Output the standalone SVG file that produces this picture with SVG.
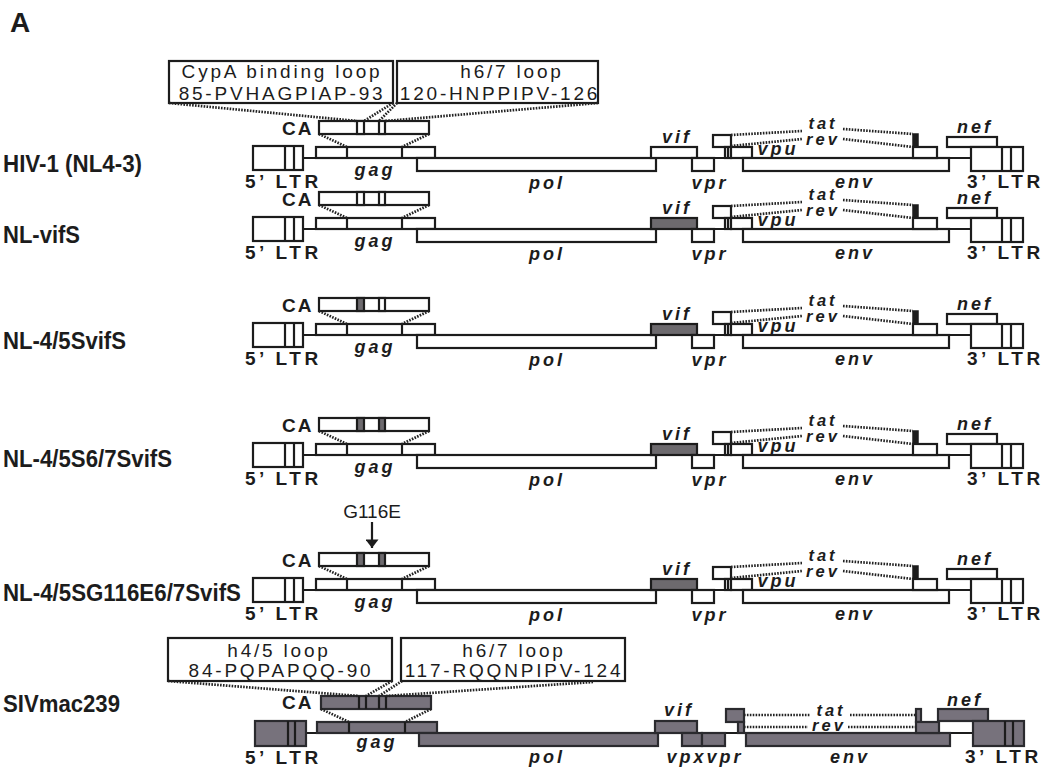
<svg xmlns="http://www.w3.org/2000/svg" width="1046" height="770" viewBox="0 0 1046 770">
<style>
.bx{fill:#fff;stroke:#1c1c1c;stroke-width:2.2}
.gr{fill:#6d6a6e;stroke:#1c1c1c;stroke-width:2.2}
.sv{fill:#77727c;stroke:#2a2a2e;stroke-width:2.2}
.dk{fill:#1c1c1c;stroke:#1c1c1c;stroke-width:1.5}
.ln{stroke:#1c1c1c;stroke-width:2.2;fill:none}
.dt{stroke:#222;stroke-width:2.7;stroke-dasharray:1.6 1.3;fill:none}
.gene{font-family:"Liberation Sans",Arial,sans-serif;font-weight:bold;font-style:italic;font-size:18px;letter-spacing:3px;text-anchor:middle;fill:#1c1c1c}
.tr{font-size:16.5px}
.ltr{font-family:"Liberation Sans",Arial,sans-serif;font-weight:bold;font-size:19px;letter-spacing:3.5px;fill:#1c1c1c}
.ca{font-family:"Liberation Sans",Arial,sans-serif;font-weight:bold;font-size:19px;letter-spacing:2px;fill:#1c1c1c}
.lbl{font-family:"Liberation Sans",Arial,sans-serif;font-weight:bold;font-size:24px;fill:#1c1c1c}
.bt{font-family:"Liberation Sans",Arial,sans-serif;font-size:19px;letter-spacing:2.8px;text-anchor:middle;fill:#1c1c1c}
.ann{font-family:"Liberation Sans",Arial,sans-serif;font-size:19px;text-anchor:middle;fill:#1c1c1c}
</style>
<defs>
<marker id="ah" markerWidth="20" markerHeight="13" refX="13" refY="10" orient="auto" markerUnits="userSpaceOnUse" viewBox="0 0 13 20">
<path d="M0,0 L13,10 L0,20 Z" fill="#1c1c1c"/>
</marker>
</defs>
<rect width="1046" height="770" fill="#fff"/>
<text x="10" y="32" style="font-family:'Liberation Sans',Arial,sans-serif;font-weight:bold;font-size:28px;fill:#1c1c1c">A</text>

<g id="labels">
<text class="lbl" x="3" y="172" textLength="139" lengthAdjust="spacingAndGlyphs">HIV-1 (NL4-3)</text>
<text class="lbl" x="3" y="243" textLength="77" lengthAdjust="spacingAndGlyphs">NL-vifS</text>
<text class="lbl" x="3" y="349" textLength="123" lengthAdjust="spacingAndGlyphs">NL-4/5SvifS</text>
<text class="lbl" x="3" y="467" textLength="169" lengthAdjust="spacingAndGlyphs">NL-4/5S6/7SvifS</text>
<text class="lbl" x="3" y="601" textLength="238" lengthAdjust="spacingAndGlyphs">NL-4/5SG116E6/7SvifS</text>
<text class="lbl" x="3" y="712" textLength="117" lengthAdjust="spacingAndGlyphs">SIVmac239</text>
</g>

<g id="loop-cypa">
<rect class="bx" x="169" y="61" width="224" height="42"/>
<text class="bt" x="282" y="78">CypA binding loop</text>
<text class="bt" x="282" y="100">85-PVHAGPIAP-93</text>
</g>
<g id="loop-h67-hiv">
<rect class="bx" x="397" y="61" width="201" height="42"/>
<text class="bt" x="512" y="78">h6/7 loop</text>
<text class="bt" x="500" y="100">120-HNPPIPV-126</text>
</g>

<g id="row-hiv1">
<line class="ln" x1="303" y1="158" x2="971" y2="158"/>
<rect class="bx" x="253" y="146" width="50" height="24"/><line class="ln" x1="285" y1="146" x2="285" y2="170"/><line class="ln" x1="294" y1="146" x2="294" y2="170"/>
<rect class="bx" x="316" y="147" width="119" height="11"/><line class="ln" x1="347" y1="147" x2="347" y2="158"/><line class="ln" x1="402" y1="147" x2="402" y2="158"/>
<rect class="bx" x="417" y="158" width="239" height="13"/>
<rect class="bx" x="651" y="147" width="46" height="11"/>
<rect class="bx" x="692" y="158" width="22" height="13"/>
<rect class="bx" x="713" y="135" width="18" height="12"/>
<rect class="bx" x="725" y="147" width="6" height="11"/><line class="ln" x1="728" y1="147" x2="728" y2="158"/>
<rect class="bx" x="731" y="147" width="21" height="11"/>
<rect class="bx" x="743" y="158" width="206" height="13"/>
<rect class="dk" x="913" y="134" width="5" height="13"/>
<rect class="bx" x="913" y="147" width="24" height="11"/>
<rect class="bx" x="947" y="137" width="50" height="10"/>
<rect class="bx" x="971" y="147" width="52" height="24"/><line class="ln" x1="1002" y1="147" x2="1002" y2="171"/><line class="ln" x1="1011" y1="147" x2="1011" y2="171"/>
<rect class="bx" x="319" y="121" width="110" height="13"/><rect class="bx" x="357" y="121" width="7" height="13"/><rect class="bx" x="379" y="121" width="6" height="13"/>
<text class="ca" x="282" y="135">CA</text>
<text class="ltr" x="245" y="188">5’ LTR</text>
<text class="ltr" x="967" y="188">3’ LTR</text>
<text class="gene" x="375" y="176">gag</text>
<text class="gene" x="547" y="189">pol</text>
<text class="gene" x="677" y="143">vif</text>
<text class="gene" x="710" y="189">vpr</text>
<text class="gene" x="778" y="155">vpu</text>
<text class="gene tr" x="823" y="129">tat</text>
<text class="gene tr" x="823" y="145">rev</text>
<text class="gene" x="855" y="188">env</text>
<text class="gene" x="975" y="133">nef</text>
</g>

<g id="row-nlvifs" transform="translate(0,71)">
<line class="ln" x1="303" y1="158" x2="971" y2="158"/>
<rect class="bx" x="253" y="146" width="50" height="24"/><line class="ln" x1="285" y1="146" x2="285" y2="170"/><line class="ln" x1="294" y1="146" x2="294" y2="170"/>
<rect class="bx" x="316" y="147" width="119" height="11"/><line class="ln" x1="347" y1="147" x2="347" y2="158"/><line class="ln" x1="402" y1="147" x2="402" y2="158"/>
<rect class="bx" x="417" y="158" width="239" height="13"/>
<rect class="gr" x="651" y="147" width="46" height="11"/>
<rect class="bx" x="692" y="158" width="22" height="13"/>
<rect class="bx" x="713" y="135" width="18" height="12"/>
<rect class="bx" x="725" y="147" width="6" height="11"/><line class="ln" x1="728" y1="147" x2="728" y2="158"/>
<rect class="bx" x="731" y="147" width="21" height="11"/>
<rect class="bx" x="743" y="158" width="206" height="13"/>
<rect class="dk" x="913" y="134" width="5" height="13"/>
<rect class="bx" x="913" y="147" width="24" height="11"/>
<rect class="bx" x="947" y="137" width="50" height="10"/>
<rect class="bx" x="971" y="147" width="52" height="24"/><line class="ln" x1="1002" y1="147" x2="1002" y2="171"/><line class="ln" x1="1011" y1="147" x2="1011" y2="171"/>
<rect class="bx" x="319" y="121" width="110" height="13"/><rect class="bx" x="357" y="121" width="7" height="13"/><rect class="bx" x="379" y="121" width="6" height="13"/>
<text class="ca" x="282" y="135">CA</text>
<text class="ltr" x="245" y="188">5’ LTR</text>
<text class="ltr" x="967" y="188">3’ LTR</text>
<text class="gene" x="375" y="176">gag</text>
<text class="gene" x="547" y="189">pol</text>
<text class="gene" x="677" y="143">vif</text>
<text class="gene" x="710" y="189">vpr</text>
<text class="gene" x="778" y="155">vpu</text>
<text class="gene tr" x="823" y="129">tat</text>
<text class="gene tr" x="823" y="145">rev</text>
<text class="gene" x="855" y="188">env</text>
<text class="gene" x="975" y="133">nef</text>
</g>

<g id="row-nl45svifs" transform="translate(0,177)">
<line class="ln" x1="303" y1="158" x2="971" y2="158"/>
<rect class="bx" x="253" y="146" width="50" height="24"/><line class="ln" x1="285" y1="146" x2="285" y2="170"/><line class="ln" x1="294" y1="146" x2="294" y2="170"/>
<rect class="bx" x="316" y="147" width="119" height="11"/><line class="ln" x1="347" y1="147" x2="347" y2="158"/><line class="ln" x1="402" y1="147" x2="402" y2="158"/>
<rect class="bx" x="417" y="158" width="239" height="13"/>
<rect class="gr" x="651" y="147" width="46" height="11"/>
<rect class="bx" x="692" y="158" width="22" height="13"/>
<rect class="bx" x="713" y="135" width="18" height="12"/>
<rect class="bx" x="725" y="147" width="6" height="11"/><line class="ln" x1="728" y1="147" x2="728" y2="158"/>
<rect class="bx" x="731" y="147" width="21" height="11"/>
<rect class="bx" x="743" y="158" width="206" height="13"/>
<rect class="dk" x="913" y="134" width="5" height="13"/>
<rect class="bx" x="913" y="147" width="24" height="11"/>
<rect class="bx" x="947" y="137" width="50" height="10"/>
<rect class="bx" x="971" y="147" width="52" height="24"/><line class="ln" x1="1002" y1="147" x2="1002" y2="171"/><line class="ln" x1="1011" y1="147" x2="1011" y2="171"/>
<rect class="bx" x="319" y="121" width="110" height="13"/><rect class="gr" x="357" y="121" width="7" height="13"/><rect class="bx" x="379" y="121" width="6" height="13"/>
<text class="ca" x="282" y="135">CA</text>
<text class="ltr" x="245" y="188">5’ LTR</text>
<text class="ltr" x="967" y="188">3’ LTR</text>
<text class="gene" x="375" y="176">gag</text>
<text class="gene" x="547" y="189">pol</text>
<text class="gene" x="677" y="143">vif</text>
<text class="gene" x="710" y="189">vpr</text>
<text class="gene" x="778" y="155">vpu</text>
<text class="gene tr" x="823" y="129">tat</text>
<text class="gene tr" x="823" y="145">rev</text>
<text class="gene" x="855" y="188">env</text>
<text class="gene" x="975" y="133">nef</text>
</g>

<g id="row-nl45s67svifs" transform="translate(0,297)">
<line class="ln" x1="303" y1="158" x2="971" y2="158"/>
<rect class="bx" x="253" y="146" width="50" height="24"/><line class="ln" x1="285" y1="146" x2="285" y2="170"/><line class="ln" x1="294" y1="146" x2="294" y2="170"/>
<rect class="bx" x="316" y="147" width="119" height="11"/><line class="ln" x1="347" y1="147" x2="347" y2="158"/><line class="ln" x1="402" y1="147" x2="402" y2="158"/>
<rect class="bx" x="417" y="158" width="239" height="13"/>
<rect class="gr" x="651" y="147" width="46" height="11"/>
<rect class="bx" x="692" y="158" width="22" height="13"/>
<rect class="bx" x="713" y="135" width="18" height="12"/>
<rect class="bx" x="725" y="147" width="6" height="11"/><line class="ln" x1="728" y1="147" x2="728" y2="158"/>
<rect class="bx" x="731" y="147" width="21" height="11"/>
<rect class="bx" x="743" y="158" width="206" height="13"/>
<rect class="dk" x="913" y="134" width="5" height="13"/>
<rect class="bx" x="913" y="147" width="24" height="11"/>
<rect class="bx" x="947" y="137" width="50" height="10"/>
<rect class="bx" x="971" y="147" width="52" height="24"/><line class="ln" x1="1002" y1="147" x2="1002" y2="171"/><line class="ln" x1="1011" y1="147" x2="1011" y2="171"/>
<rect class="bx" x="319" y="121" width="110" height="13"/><rect class="gr" x="357" y="121" width="7" height="13"/><rect class="gr" x="379" y="121" width="6" height="13"/>
<text class="ca" x="282" y="135">CA</text>
<text class="ltr" x="245" y="188">5’ LTR</text>
<text class="ltr" x="967" y="188">3’ LTR</text>
<text class="gene" x="375" y="176">gag</text>
<text class="gene" x="547" y="189">pol</text>
<text class="gene" x="677" y="143">vif</text>
<text class="gene" x="710" y="189">vpr</text>
<text class="gene" x="778" y="155">vpu</text>
<text class="gene tr" x="823" y="129">tat</text>
<text class="gene tr" x="823" y="145">rev</text>
<text class="gene" x="855" y="188">env</text>
<text class="gene" x="975" y="133">nef</text>
</g>

<g id="row-nl45sg116e" transform="translate(0,432)">
<line class="ln" x1="303" y1="158" x2="971" y2="158"/>
<rect class="bx" x="253" y="146" width="50" height="24"/><line class="ln" x1="285" y1="146" x2="285" y2="170"/><line class="ln" x1="294" y1="146" x2="294" y2="170"/>
<rect class="bx" x="316" y="147" width="119" height="11"/><line class="ln" x1="347" y1="147" x2="347" y2="158"/><line class="ln" x1="402" y1="147" x2="402" y2="158"/>
<rect class="bx" x="417" y="158" width="239" height="13"/>
<rect class="gr" x="651" y="147" width="46" height="11"/>
<rect class="bx" x="692" y="158" width="22" height="13"/>
<rect class="bx" x="713" y="135" width="18" height="12"/>
<rect class="bx" x="725" y="147" width="6" height="11"/><line class="ln" x1="728" y1="147" x2="728" y2="158"/>
<rect class="bx" x="731" y="147" width="21" height="11"/>
<rect class="bx" x="743" y="158" width="206" height="13"/>
<rect class="dk" x="913" y="134" width="5" height="13"/>
<rect class="bx" x="913" y="147" width="24" height="11"/>
<rect class="bx" x="947" y="137" width="50" height="10"/>
<rect class="bx" x="971" y="147" width="52" height="24"/><line class="ln" x1="1002" y1="147" x2="1002" y2="171"/><line class="ln" x1="1011" y1="147" x2="1011" y2="171"/>
<rect class="bx" x="319" y="121" width="110" height="13"/><rect class="gr" x="357" y="121" width="7" height="13"/><rect class="gr" x="379" y="121" width="6" height="13"/>
<text class="ca" x="282" y="135">CA</text>
<text class="ltr" x="245" y="188">5’ LTR</text>
<text class="ltr" x="967" y="188">3’ LTR</text>
<text class="gene" x="375" y="176">gag</text>
<text class="gene" x="547" y="189">pol</text>
<text class="gene" x="677" y="143">vif</text>
<text class="gene" x="710" y="189">vpr</text>
<text class="gene" x="778" y="155">vpu</text>
<text class="gene tr" x="823" y="129">tat</text>
<text class="gene tr" x="823" y="145">rev</text>
<text class="gene" x="855" y="188">env</text>
<text class="gene" x="975" y="133">nef</text>
</g>

<g id="g116e-label">
<text class="ann" x="372" y="518">G116E</text>
</g>

<g id="loop-h45-siv">
<rect class="bx" x="168" y="638" width="224" height="43"/>
<text class="bt" x="279" y="657">h4/5 loop</text>
<text class="bt" x="281" y="677">84-PQPAPQQ-90</text>
</g>
<g id="loop-h67-siv">
<rect class="bx" x="401" y="638" width="224" height="43"/>
<text class="bt" x="514" y="657">h6/7 loop</text>
<text class="bt" x="514" y="677">117-RQQNPIPV-124</text>
</g>

<g id="row-siv">
<line class="ln" x1="306" y1="733" x2="973" y2="733"/>
<rect class="sv" x="255" y="721" width="51" height="25"/><line class="ln" x1="288" y1="721" x2="288" y2="746"/><line class="ln" x1="295" y1="721" x2="295" y2="746"/>
<rect class="sv" x="317" y="722" width="120" height="11"/><line class="ln" x1="349" y1="722" x2="349" y2="733"/><line class="ln" x1="405" y1="722" x2="405" y2="733"/>
<rect class="sv" x="419" y="733" width="239" height="13"/>
<rect class="sv" x="655" y="721" width="42" height="12"/>
<rect class="sv" x="682" y="733" width="20" height="13"/>
<rect class="sv" x="702" y="733" width="23" height="13"/>
<rect class="sv" x="726" y="709" width="18" height="13"/>
<rect class="sv" x="738" y="722" width="6" height="11"/>
<rect class="sv" x="746" y="733" width="204" height="13"/>
<rect class="sv" x="916" y="709" width="5" height="13"/>
<rect class="sv" x="916" y="722" width="23" height="11"/>
<rect class="sv" x="938" y="709" width="50" height="12"/>
<rect class="sv" x="973" y="721" width="51" height="25"/><line class="ln" x1="1005" y1="721" x2="1005" y2="746"/><line class="ln" x1="1013" y1="721" x2="1013" y2="746"/>
<rect class="sv" x="321" y="696" width="110" height="13"/><line class="ln" x1="359" y1="696" x2="359" y2="709"/><line class="ln" x1="366" y1="696" x2="366" y2="709"/><line class="ln" x1="379" y1="696" x2="379" y2="709"/><line class="ln" x1="386" y1="696" x2="386" y2="709"/>
<text class="ca" x="282" y="709">CA</text>
<text class="ltr" x="245" y="764">5’ LTR</text>
<text class="ltr" x="965" y="763">3’ LTR</text>
<text class="gene" x="377" y="748">gag</text>
<text class="gene" x="547" y="763">pol</text>
<text class="gene" x="679" y="716">vif</text>
<text class="gene" x="705" y="763">vpxvpr</text>
<text class="gene tr" x="831" y="716">tat</text>
<text class="gene tr" x="829" y="731">rev</text>
<text class="gene" x="850" y="763">env</text>
<text class="gene" x="965" y="706">nef</text>
</g>

<g id="connectors">
<path class="dt" d="M169,103 L357,121 M393,103 L364,121 M397,103 L379,121 M598,103 L385,121"/>
<g transform="translate(0,0)"><path class="dt" d="M319,134 L347,147 M429,134 L402,147 M731,135 L802,131 M843,129 L913,134 M731,146 L802,139 M843,139 L913,147"/></g>
<g transform="translate(0,71)"><path class="dt" d="M319,134 L347,147 M429,134 L402,147 M731,135 L802,131 M843,129 L913,134 M731,146 L802,139 M843,139 L913,147"/></g>
<g transform="translate(0,177)"><path class="dt" d="M319,134 L347,147 M429,134 L402,147 M731,135 L802,131 M843,129 L913,134 M731,146 L802,139 M843,139 L913,147"/></g>
<g transform="translate(0,297)"><path class="dt" d="M319,134 L347,147 M429,134 L402,147 M731,135 L802,131 M843,129 L913,134 M731,146 L802,139 M843,139 L913,147"/></g>
<g transform="translate(0,432)"><path class="dt" d="M319,134 L347,147 M429,134 L402,147 M731,135 L802,131 M843,129 L913,134 M731,146 L802,139 M843,139 L913,147"/></g>
<path class="dt" d="M168,681 L359,696 M392,681 L366,696 M402,681 L379,696 M593,682 L386,696"/>
<path class="dt" d="M321,709 L349,722 M431,709 L405,722 M744,715 L810,715 M850,715 L916,715 M744,727 L808,727 M848,727 L916,727"/>
<line class="ln" x1="372" y1="522" x2="372" y2="548" marker-end="url(#ah)"/>
</g>
</svg>
